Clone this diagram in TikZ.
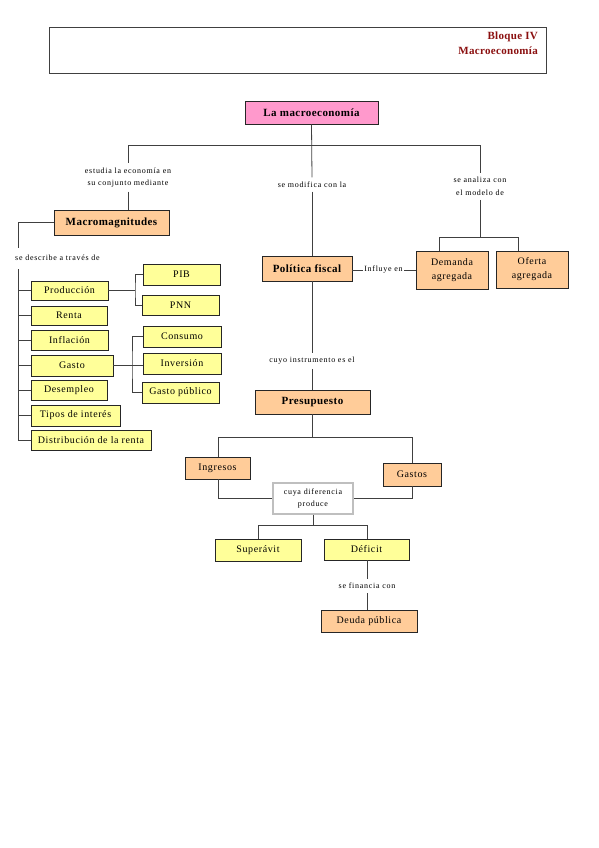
\documentclass[tikz,border=0pt]{standalone}
\usepackage{fontspec}
\setmainfont{Liberation Serif}
\newfontfamily\boxfont[LetterSpace=6]{Liberation Serif}
\newfontfamily\titlefont[LetterSpace=4]{Liberation Serif}
\newfontfamily\labfont[LetterSpace=9]{Liberation Serif}
\newfontfamily\hdrfont[LetterSpace=3]{Liberation Serif}
\usetikzlibrary{shadows}
\definecolor{pinkf}{HTML}{FF99CC}
\definecolor{orangef}{HTML}{FFCC99}
\definecolor{yellowf}{HTML}{FFFF99}
\definecolor{darkred}{HTML}{8B1010}
\definecolor{linec}{HTML}{404040}
\begin{document}
\begin{tikzpicture}[x=1pt,y=-1pt,
  box/.style={draw=black!85, line width=0.8pt, inner sep=1pt, align=center,
    drop shadow={shadow xshift=0.8pt, shadow yshift=-0.8pt, opacity=0.45, fill=black}},
  bx/.style args={#1/#2}{box, minimum width=#1, minimum height=#2},
  title/.style={font=\titlefont\fontsize{11}{12}\selectfont\bfseries},
  txt/.style={font=\boxfont\fontsize{10}{14}\selectfont},
  lab/.style={font=\labfont\fontsize{8}{12.5}\selectfont, inner sep=4pt, align=center},
  conn/.style={draw=linec, line width=0.8pt}
]
\useasboundingbox (0,0) rectangle (599,848);
% header
\node[draw=black!75, line width=0.9pt, minimum width=497, minimum height=46,
  drop shadow={shadow xshift=0.8pt, shadow yshift=-0.8pt, opacity=0.4, fill=black}, fill=white] (hdr) at (297.5,50) {};
\node[anchor=north east, align=right, text=darkred, font=\hdrfont\fontsize{11}{14.5}\selectfont\bfseries, inner sep=0pt] (hdrtxt) at (538,32) {Bloque IV\\Macroeconomía};
% main nodes
\node[bx=133/23, fill=pinkf, title] (macro) at (311.5,112.5) {La macroeconomía};
\node[bx=115/25, fill=orangef, title] (mag) at (111.5,222.5) {Macromagnitudes};
\node[bx=90/25, fill=orangef, title] (pol) at (307,268.5) {Política fiscal};
\node[bx=72/38, fill=orangef, txt] (dem) at (452,270) {Demanda\\agregada};
\node[bx=72/37, fill=orangef, txt] (ofe) at (532,269.5) {Oferta\\agregada};
\node[bx=115/24, fill=orangef, title] (pres) at (312.5,402) {Presupuesto};
\node[bx=65/22, fill=orangef, txt] (ing) at (217.5,468) {Ingresos};
\node[bx=58/23, fill=orangef, txt] (gas) at (412,474.5) {Gastos};
\node[draw=black!25, line width=1.2pt, fill=white, minimum width=80, minimum height=31, align=center,
  font=\labfont\fontsize{8}{12}\selectfont, inner sep=1pt] (dif) at (313,498.5) {cuya diferencia\\produce};
\node[bx=86/22, fill=yellowf, txt] (sup) at (258,550) {Superávit};
\node[bx=85/21, fill=yellowf, txt] (def) at (366.5,549.5) {Déficit};
\node[bx=96/22, fill=orangef, txt] (deu) at (369,621) {Deuda pública};
% left list
\node[bx=77/19, fill=yellowf, txt] (prod) at (69.5,290.5) {Producción};
\node[bx=76/19, fill=yellowf, txt] (renta) at (69,315.5) {Renta};
\node[bx=77/20, fill=yellowf, txt] (infl) at (69.5,340) {Inflación};
\node[bx=82/21, fill=yellowf, txt] (gasto) at (72,365.5) {Gasto};
\node[bx=76/20, fill=yellowf, txt] (desem) at (69,390) {Desempleo};
\node[bx=89/21, fill=yellowf, txt] (tipos) at (75.5,415.5) {Tipos de interés};
\node[bx=120/20, fill=yellowf, txt] (dist) at (91,440) {Distribución de la renta};
\node[bx=77/21, fill=yellowf, txt] (pib) at (181.5,274.5) {PIB};
\node[bx=77/20, fill=yellowf, txt] (pnn) at (180.5,305) {PNN};
\node[bx=78/21, fill=yellowf, txt] (cons) at (182,336.5) {Consumo};
\node[bx=78/21, fill=yellowf, txt] (inv) at (182,363.5) {Inversión};
\node[bx=77/21, fill=yellowf, txt] (gpub) at (180.5,392.5) {Gasto público};
% labels
\node[lab] (lab1) at (128,177.5) {estudia la economía en\\su conjunto mediante};
\node[lab] (lab2) at (312,184.5) {se modifica con la};
\node[lab] (lab3) at (480,186.5) {se analiza con\\el modelo de};
\node[lab] (lab4) at (312,361) {cuyo instrumento es el};
\node[lab] (lab5) at (367,586) {se financia con};
\node[lab, inner xsep=1.5pt] (labinf) at (383.5,270) {Influye en};
\node[lab, anchor=west, inner sep=0pt] (labdesc) at (15,258) {se describe a través de};
% coordinates
\coordinate (jl) at (128,145);
\coordinate (jm) at (312,145);
\coordinate (jr) at (480,145);
\coordinate (jd) at (480,237);
\coordinate (jdl) at (439,237);
\coordinate (jdr) at (518,237);
\coordinate (mj) at (18,222.5);
\coordinate (mj2) at (18,248);
\coordinate (lt) at (18,269);
\coordinate (lb) at (18,441);
\coordinate (pj) at (135,290.5);
\coordinate (gj) at (132,365.5);
\coordinate (bj) at (312,437);
\coordinate (bjl) at (218,437);
\coordinate (bjr) at (412,437);
\coordinate (cj) at (313,525);
\coordinate (cjl) at (258,525);
\coordinate (cjr) at (367,525);
% connectors
\path[conn] (macro.south) -- (lab2.north);
\path[conn] (jl) -- (jr);
\path[conn] (jl) -- (lab1.north);
\path[conn] (lab1.south) -- (lab1.south |- mag.north);
\path[conn] (lab2.south) -- (lab2.south |- pol.north);
\path[conn] (jr) -- (lab3.north);
\path[conn] (lab3.south) -- (jd);
\path[conn] (jdl) -- (jdr);
\path[conn] (jdl) -- (jdl |- dem.north);
\path[conn] (jdr) -- (jdr |- ofe.north);
\path[conn] (labinf.west -| pol.east) -- (labinf.west);
\path[conn] (labinf.east) -- (labinf.east -| dem.west);
\path[conn] (mag.west) -- (mj) -- (mj2);
\path[conn] (lt) -- (lb);
\foreach \b in {prod,renta,infl,gasto,desem,tipos,dist} {\path[conn] (lt |- \b.west) -- (\b.west);}
\path[conn] (prod.east) -- (pj);
\path[conn] (pib.west) -| (pj) |- (pnn.west);
\path[conn] (gasto.east) -- (gasto.east -| inv.west);
\path[conn] (cons.west) -| (gj) |- (gpub.west);
\path[conn] (lab2.south |- pol.south) -- (lab4.north);
\path[conn] (lab4.south) -- (lab4.south |- pres.north);
\path[conn] (bj |- pres.south) -- (bj);
\path[conn] (bjl) -- (bjr);
\path[conn] (bjl) -- (bjl |- ing.north);
\path[conn] (bjr) -- (bjr |- gas.north);
\path[conn] (bjl |- ing.south) |- (dif.west);
\path[conn] (bjr |- gas.south) |- (dif.east);
\path[conn] (dif.south) -- (cj);
\path[conn] (cjl) -- (cjr);
\path[conn] (cjl) -- (cjl |- sup.north);
\path[conn] (cjr) -- (cjr |- def.north);
\path[conn] (cjr |- def.south) -- (lab5.north -| cjr);
\path[conn] (lab5.south -| cjr) -- (cjr |- deu.north);
\end{tikzpicture}
\end{document}
